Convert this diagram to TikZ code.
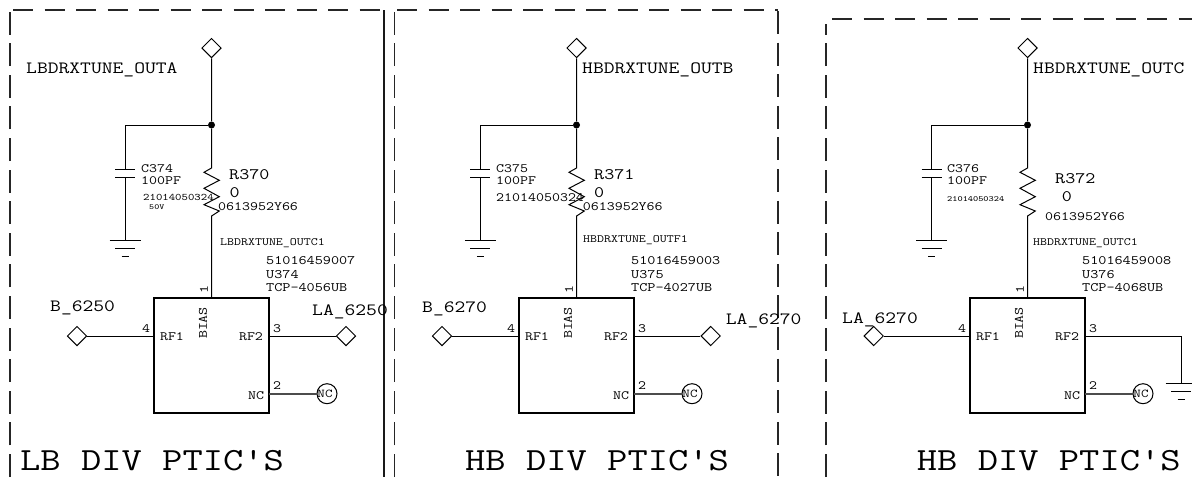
\documentclass[tikz,border=0pt]{standalone}
\usepackage{fontspec}
\setmonofont[FakeStretch=1.22]{Latin Modern Mono}
\usetikzlibrary{shapes.geometric}
\tikzset{
  wire/.style={line width=1pt,black},
  ncwire/.style={line width=1.6pt,black!70},
  framev/.style={line width=1.3pt,black!85,dash pattern=on 23pt off 8.6pt},
  frameh/.style={line width=1.3pt,black!85,dash pattern=on 20pt off 11.5pt},
  port/.style={diamond,draw,line width=1pt,inner sep=0pt,minimum size=19.5pt},
  ptic/.style={rectangle,draw,line width=2.3pt,inner sep=0pt,minimum size=115pt},
  nocon/.style={circle,draw,line width=1pt,inner sep=0pt,minimum size=20pt,black,font=\ttfamily\fontsize{12}{12}\selectfont},
  joint/.style={circle,fill=black,inner sep=0pt,minimum size=7pt},
  txt/.style={anchor=west,inner sep=0pt,text depth=0pt,black,font=\ttfamily}
}
\newcommand{\netlabel}[5]{\node[txt] (#1) at (#3,#4) {\fontsize{#2}{#2}\selectfont #5};}
\newcommand{\pinlabel}[5][0]{\node[txt,anchor=center,rotate=#1] (#2) at (#3,#4) {\fontsize{12.7}{12.7}\selectfont #5};}
\newcommand{\drawgnd}[1]{
  \draw[wire] (#1)++(-15.5,0)--++(31,0) (#1)++(-10,8)--++(20,0) (#1)++(-3.5,16)--++(7,0);
}
% #1 prefix, #2 left edge of the chip, #3 cap x, #4 left port x, both from the chip
\newcommand{\drawptic}[4]{
  \begin{scope}[xshift=#2pt]
    \node[ptic] (#1chip) at (57.5,355.5) {};
    \node[port] (#1top) at (57.5,48) {};
    \node[port] (#1left) at (#4,336) {};
    \node[joint] (#1jn) at (57.5,125) {};
    \coordinate (#1rtop) at (57.5,168);
    \coordinate (#1ctop) at (#3,169);
    \coordinate (#1cbot) at (#3,177);
    \coordinate (#1gnd) at (#3,240);
    \coordinate (#1pinl) at (0,336);
    \coordinate (#1pinr) at (115,336);
    \coordinate (#1pinn) at (115,393.7);
    \node[nocon] (#1nc) at (173,393.7) {\kern-2pt NC\kern2pt};
    \draw[wire] (#1top)--(#1jn)--(#1rtop)--++(-7.5,4.3)--++(15.3,8)--++(-15.3,8)--++(15.3,8.4)--++(-15.3,8)--++(15.3,6.3)--++(-7.7,5)--(#1chip.north);
    \draw[wire] (#1jn)-|(#1ctop);
    \draw[wire] (#1ctop)++(-10,0)--++(20,0) (#1cbot)++(-10,0)--++(20,0);
    \draw[wire] (#1cbot)--(#1gnd);
    \drawgnd{#1gnd}
    \draw[wire] (#1left)--(#1pinl);
    \draw[ncwire] (#1pinn)--(#1nc);
    \pinlabel{#1rfa}{18}{337}{RF1}
    \pinlabel{#1rfb}{97}{337}{RF2}
    \pinlabel{#1ncl}{102}{395.5}{NC}
    \pinlabel[90]{#1bias}{49}{323}{BIAS}
    \pinlabel[90]{#1pa}{50}{290}{1}
    \pinlabel{#1pb}{123}{386}{2}
    \pinlabel{#1pc}{123}{329}{3}
    \pinlabel{#1pd}{-8}{329}{4}
  \end{scope}
}
\begin{document}
\begin{tikzpicture}[x=1pt,y=-1pt]
\useasboundingbox (0,0) rectangle (1192,477);
\draw[framev] (10,477)--(10,11);
\draw[frameh] (13,10)--(384,10);
\draw[line width=1.3pt,black!90] (384,10)--(384,477);
\draw[framev] (394.5,477)--(394.5,11);
\draw[frameh] (397,10)--(778,10);
\draw[framev] (778,11)--(778,477);
\draw[framev] (826,477)--(826,24);
\draw[frameh] (832,19)--(1192,19);
\drawptic{a}{154}{-29}{-77}
\drawptic{b}{519}{-38.7}{-77}
\drawptic{c}{970}{-38.3}{-96.3}
\node[port] (aright) at (346,336) {};
\node[port] (bright) at (710.7,336) {};
\coordinate (cgndr) at (1181,383.7);
\draw[wire] (apinr)--(aright);
\draw[wire] (bpinr)--(bright);
\draw[wire] (cpinr)-|(cgndr);
\drawgnd{cgndr}
\netlabel{aout}{17.2}{26}{68}{LBDRXTUNE\_OUTA}
\netlabel{bout}{17.2}{582}{68}{HBDRXTUNE\_OUTB}
\netlabel{cout}{17.2}{1033}{68}{HBDRXTUNE\_OUTC}
\netlabel{ain}{17.2}{50}{306}{B\_6250}
\netlabel{bin}{17.2}{422}{307}{B\_6270}
\netlabel{cin}{17.2}{842}{318}{LA\_6270}
\netlabel{aoutr}{17.2}{312}{310}{LA\_6250}
\netlabel{boutr}{17.2}{725.7}{319}{LA\_6270}
\netlabel{ctitle}{32.3}{916.7}{460.5}{HB DIV PTIC'S}
\netlabel{btitle}{32.3}{465}{460.5}{HB DIV PTIC'S}
\netlabel{atitle}{32.3}{20}{460.5}{LB DIV PTIC'S}
\netlabel{cap1}{12.7}{141}{169}{C374}
\netlabel{cap2}{12.7}{496}{169}{C375}
\netlabel{cap3}{12.7}{947}{169}{C376}
\netlabel{capv1}{12.7}{141}{181}{100PF}
\netlabel{capv2}{12.7}{496}{181}{100PF}
\netlabel{capv3}{12.7}{947}{181}{100PF}
\netlabel{capn1}{10}{143}{197}{21014050324}
\netlabel{capn2}{12.7}{496}{198}{21014050324}
\netlabel{capn3}{8}{947}{199}{21014050324}
\netlabel{capw1}{7.8}{149}{207}{50V}
\netlabel{res1}{16}{229}{174}{R370}
\netlabel{res2}{16}{594}{174}{R371}
\netlabel{res3}{16}{1055}{178}{R372}
\netlabel{resv1}{16}{229.5}{193}{0}
\netlabel{resv2}{16}{594}{193}{0}
\netlabel{resv3}{16}{1061.7}{197}{0}
\netlabel{resn1}{12.7}{218}{207}{0613952Y66}
\netlabel{resn2}{12.7}{582.7}{207}{0613952Y66}
\netlabel{resn3}{12.7}{1045}{217}{0613952Y66}
\netlabel{net1}{11.1}{220}{242}{LBDRXTUNE\_OUTC1}
\netlabel{net2}{11.1}{583}{238.7}{HBDRXTUNE\_OUTF1}
\netlabel{net3}{11.1}{1033}{242}{HBDRXTUNE\_OUTC1}
\netlabel{pn1}{12.9}{266}{260}{51016459007}
\netlabel{pn2}{12.9}{631}{260}{51016459003}
\netlabel{pn3}{12.9}{1082}{260}{51016459008}
\netlabel{ref1}{12.9}{266}{274}{U374}
\netlabel{ref2}{12.9}{631}{274}{U375}
\netlabel{ref3}{12.9}{1082}{274}{U376}
\netlabel{typ1}{12.9}{266}{287}{TCP-4056UB}
\netlabel{typ2}{12.9}{631}{287}{TCP-4027UB}
\netlabel{typ3}{12.9}{1082}{287}{TCP-4068UB}
\end{tikzpicture}
\end{document}
